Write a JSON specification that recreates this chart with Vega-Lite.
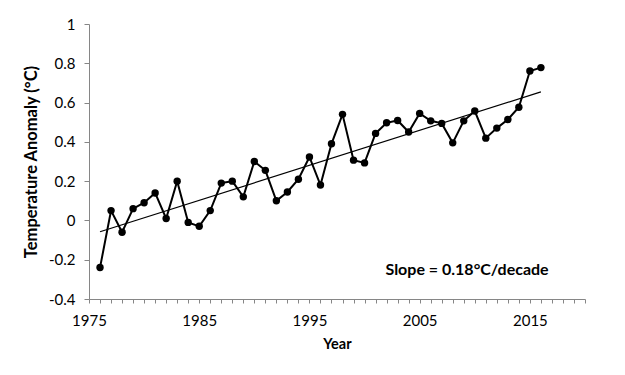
{
  "$schema": "https://vega.github.io/schema/vega-lite/v6.json",
  "autosize": "none",
  "width": 496,
  "height": 275,
  "padding": {"left": 89, "top": 24, "right": 40, "bottom": 76},
  "background": "white",
  "config": {
    "view": {"stroke": null},
    "font": "Lato",
    "axis": {"grid": false, "domainColor": "#868686", "tickColor": "#868686", "labelColor": "#000000", "titleColor": "#000000", "labelFont": "Lato", "titleFont": "Lato", "labelFontSize": 15, "titleFontWeight": "bold", "labelOverlap": false, "labelFlush": false, "labelBound": false}
  },
  "datasets": {
    "temps": [
      {"year": 1976, "anomaly": -0.24},
      {"year": 1977, "anomaly": 0.05},
      {"year": 1978, "anomaly": -0.06},
      {"year": 1979, "anomaly": 0.06},
      {"year": 1980, "anomaly": 0.09},
      {"year": 1981, "anomaly": 0.14},
      {"year": 1982, "anomaly": 0.01},
      {"year": 1983, "anomaly": 0.20},
      {"year": 1984, "anomaly": -0.01},
      {"year": 1985, "anomaly": -0.03},
      {"year": 1986, "anomaly": 0.05},
      {"year": 1987, "anomaly": 0.19},
      {"year": 1988, "anomaly": 0.20},
      {"year": 1989, "anomaly": 0.12},
      {"year": 1990, "anomaly": 0.30},
      {"year": 1991, "anomaly": 0.255},
      {"year": 1992, "anomaly": 0.10},
      {"year": 1993, "anomaly": 0.145},
      {"year": 1994, "anomaly": 0.21},
      {"year": 1995, "anomaly": 0.323},
      {"year": 1996, "anomaly": 0.18},
      {"year": 1997, "anomaly": 0.39},
      {"year": 1998, "anomaly": 0.54},
      {"year": 1999, "anomaly": 0.307},
      {"year": 2000, "anomaly": 0.293},
      {"year": 2001, "anomaly": 0.443},
      {"year": 2002, "anomaly": 0.497},
      {"year": 2003, "anomaly": 0.509},
      {"year": 2004, "anomaly": 0.45},
      {"year": 2005, "anomaly": 0.545},
      {"year": 2006, "anomaly": 0.507},
      {"year": 2007, "anomaly": 0.494},
      {"year": 2008, "anomaly": 0.395},
      {"year": 2009, "anomaly": 0.507},
      {"year": 2010, "anomaly": 0.557},
      {"year": 2011, "anomaly": 0.419},
      {"year": 2012, "anomaly": 0.47},
      {"year": 2013, "anomaly": 0.514},
      {"year": 2014, "anomaly": 0.576},
      {"year": 2015, "anomaly": 0.761},
      {"year": 2016, "anomaly": 0.778}
    ],
    "note": [
      {"year": 2009.3, "anomaly": -0.25, "text": "Slope = 0.18°C/decade"}
    ]
  },
  "data": {"name": "temps"},
  "encoding": {
    "x": {
      "field": "year", "type": "quantitative",
      "scale": {"domain": [1975, 2020], "nice": false, "zero": false},
      "axis": {
        "title": "Year",
        "titleFontSize": 14.5,
        "values": [1975,1976,1977,1978,1979,1980,1981,1982,1983,1984,1985,1986,1987,1988,1989,1990,1991,1992,1993,1994,1995,1996,1997,1998,1999,2000,2001,2002,2003,2004,2005,2006,2007,2008,2009,2010,2011,2012,2013,2014,2015,2016,2017,2018,2019,2020],
        "labelExpr": "datum.value % 10 == 5 ? format(datum.value, 'd') : ''",
        "labelOverlap": false,
        "tickSize": 4,
        "labelPadding": 10,
        "titlePadding": 9
      }
    },
    "y": {
      "field": "anomaly", "type": "quantitative",
      "scale": {"domain": [-0.4, 1], "nice": false, "zero": false},
      "axis": {
        "title": "Temperature Anomaly (°C)",
        "titleFontSize": 16.5,
        "values": [-0.4, -0.2, 0, 0.2, 0.4, 0.6, 0.8, 1],
        "labelExpr": "datum.value == 0 ? '0' : (datum.value == 1 ? '1' : (datum.value < 0 ? '-' : '') + format(abs(datum.value), '.1f'))",
        "labelOverlap": false,
        "tickSize": 5,
        "labelPadding": 9,
        "titlePadding": 9
      }
    }
  },
  "layer": [
    {
      "transform": [{"regression": "anomaly", "on": "year", "method": "linear"}],
      "mark": {"type": "line", "color": "#000000", "strokeWidth": 1.2}
    },
    {
      "mark": {"type": "line", "color": "#000000", "strokeWidth": 2, "point": {"filled": true, "color": "#000000", "size": 55, "opacity": 1}}
    },
    {
      "data": {"name": "note"},
      "mark": {"type": "text", "fontWeight": "bold", "fontSize": 16, "font": "Lato", "color": "#000000", "align": "center", "baseline": "middle"},
      "encoding": {
        "text": {"field": "text"}
      }
    }
  ]
}
